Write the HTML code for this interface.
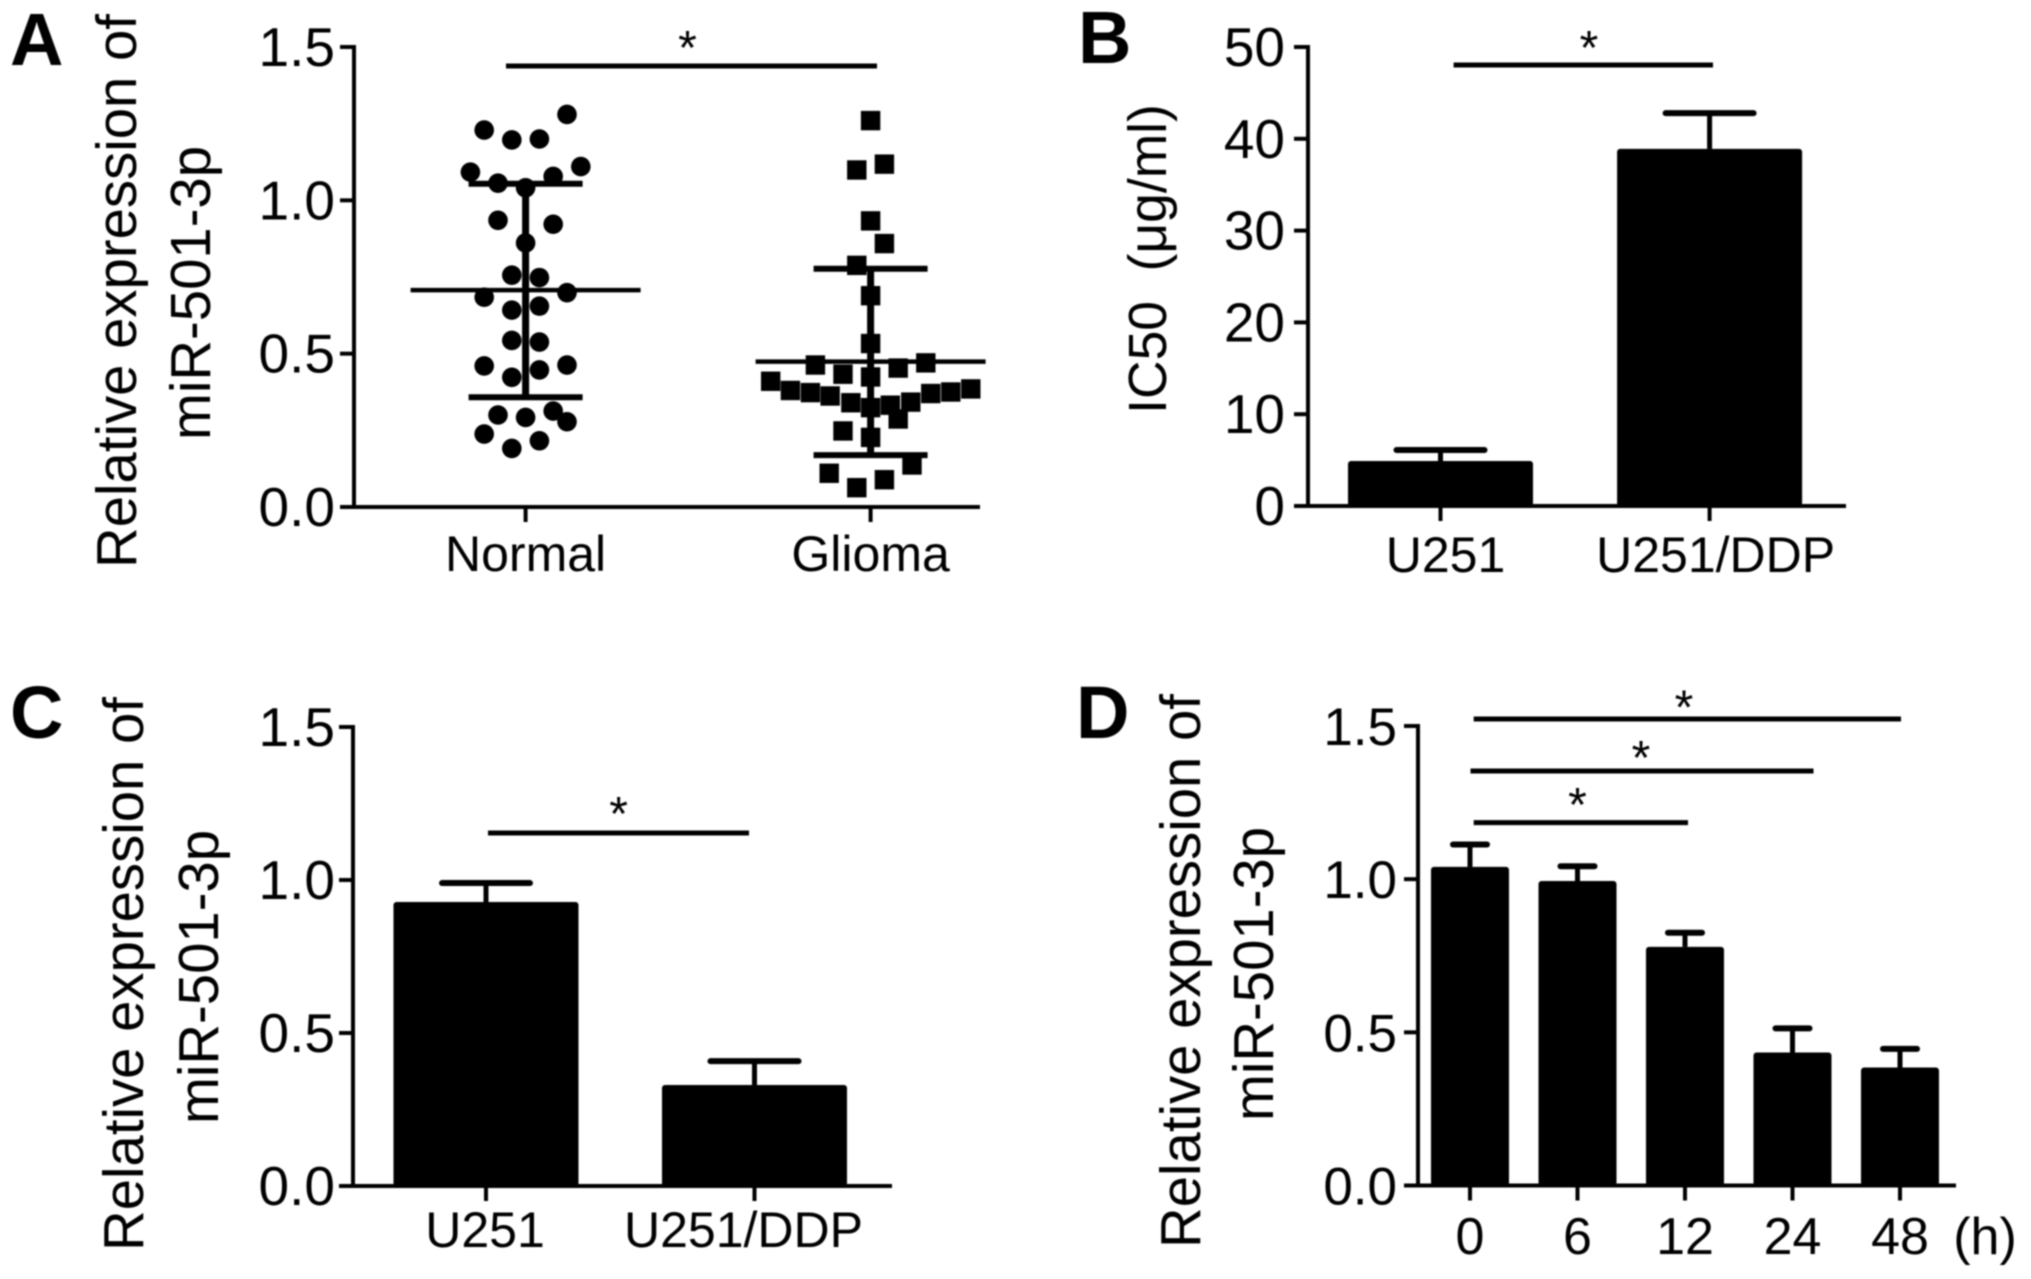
<!DOCTYPE html>
<html lang="en">
<head>
<meta charset="utf-8">
<title>miR-501-3p expression panels</title>
<style>
html,body{margin:0;padding:0;background:#fff;width:2031px;height:1279px;overflow:hidden}
svg{display:block;filter:blur(0.9px)}
text{font-family:"Liberation Sans",sans-serif;fill:#000}
.letter{font-size:74px;font-weight:bold}
.title{font-size:56.3px}
</style>
</head>
<body>
<svg id="figure" xmlns="http://www.w3.org/2000/svg" width="2031" height="1279" viewBox="0 0 2031 1279">
  <rect x="0" y="0" width="2031" height="1279" fill="#fff"/>
  <text class="letter" x="10" y="65">A</text>
  <text class="letter" x="1078" y="63">B</text>
  <text class="letter" x="10" y="738">C</text>
  <text class="letter" x="1076" y="738">D</text>

  <text class="title" text-anchor="middle" transform="translate(136 291) rotate(-90)">Relative expression of</text>
  <text class="title" text-anchor="middle" transform="translate(210 293) rotate(-90)">miR-501-3p</text>
  <text class="title" style="font-size:53.4px" text-anchor="middle" transform="translate(1166 259) rotate(-90)">IC50&#160;&#160;(μg/ml)</text>
  <text class="title" text-anchor="middle" transform="translate(143 974) rotate(-90)">Relative expression of</text>
  <text class="title" text-anchor="middle" transform="translate(218 977) rotate(-90)">miR-501-3p</text>
  <text class="title" text-anchor="middle" transform="translate(1200 971) rotate(-90)">Relative expression of</text>
  <text class="title" text-anchor="middle" transform="translate(1273 974) rotate(-90)">miR-501-3p</text>
  <text x="1985" y="1254" text-anchor="middle" font-size="52">(h)</text>
</svg>
<script>
// Panel A: scatter values
const aCategories = ['Normal', 'Glioma'];
const aTicks = ['0.0', '0.5', '1.0', '1.5'];
const normalValues = [1.280, 1.229, 1.197, 1.200, 1.092, 1.110, 1.056, 1.078, 1.041, 0.935, 0.922, 0.861, 0.756, 0.748, 0.684, 0.699, 0.642, 0.655, 0.543, 0.538, 0.460, 0.463, 0.423, 0.447, 0.300, 0.292, 0.313, 0.278, 0.238, 0.216, 0.191];
const normalSwarm = [3, -3, -1, 1, -4, 4, -2, 2, 0, -2, 2, 0, -1, 1, -3, 3, -1, 1, -1, 1, -3, 3, -1, 1, -2, 0, 2, 3, -3, 1, -1];
const gliomaValues = [1.260, 1.118, 1.099, 0.933, 0.859, 0.788, 0.689, 0.533, 0.463, 0.470, 0.433, 0.453, 0.424, 0.410, 0.380, 0.373, 0.362, 0.340, 0.324, 0.332, 0.342, 0.370, 0.375, 0.385, 0.287, 0.248, 0.227, 0.137, 0.110, 0.089, 0.063];
const gliomaSwarm = [0, 1, -1, 0, 1, -1, 0, 0, -4, 4, -2, 2, 0, -7.24, -5.81, -4.36, -2.93, -1.43, 0, 1.43, 2.91, 4.36, 5.81, 7.26, 2, -2, 0, 3, -3, 1, -1];
const aMeans = [0.707, 0.474];
const aUpper = [1.054, 0.777];
const aLower = [0.358, 0.169];

// Panel B
const bCategories = ['U251', 'U251/DDP'];
const bTicks = ['0', '10', '20', '30', '40', '50'];
const bValues = [4.9, 38.9];
const bUpper = [6.1, 42.8];

// Panel C
const cCategories = ['U251', 'U251/DDP'];
const cTicks = ['0.0', '0.5', '1.0', '1.5'];
const cValues = [0.928, 0.330];
const cUpper = [0.990, 0.408];

// Panel D
const dCategories = ['0', '6', '12', '24', '48'];
const dTicks = ['0.0', '0.5', '1.0', '1.5'];
const dValues = [1.040, 0.994, 0.779, 0.434, 0.385];
const dUpper = [1.113, 1.042, 0.825, 0.513, 0.446];

const NS = 'http://www.w3.org/2000/svg';
const svg = document.getElementById('figure');

function shape(tag, attrs, parent) {
  const node = document.createElementNS(NS, tag);
  for (const k in attrs) node.setAttribute(k, attrs[k]);
  (parent || svg).appendChild(node);
  return node;
}
function linear(d0, d1, r0, r1) {
  return function (v) { return r0 + (v - d0) / (d1 - d0) * (r1 - r0); };
}

function drawAxes(p, ticks, cats, y, x) {
  const g = shape('g', {});
  
  
  let el = shape('line', { x1: p.axisX, x2: p.axisX, y1: p.top - 2, y2: p.bottom + 2, stroke: '#000', 'stroke-width': 4 }, g);
  
  
  el = shape('line', { x1: p.axisX - 14, x2: p.right, y1: p.bottom, y2: p.bottom, stroke: '#000', 'stroke-width': 4 }, g);
  
  
  ticks.forEach(function (t) {
    const ty = y(parseFloat(t));
    const tick = shape('line', { x1: p.axisX - 14, x2: p.axisX, y1: ty, y2: ty, stroke: '#000', 'stroke-width': 4 }, g);
    
    
    const label = shape('text', { x: p.tickRight, y: ty + 19, 'text-anchor': 'end', 'font-size': p.tickSize }, g);
    label.textContent = t;
    
    
  });
  cats.forEach(function (c, i) {
    const cx = x(i);
    const tick = shape('line', { x1: cx, x2: cx, y1: p.bottom, y2: p.bottom + 15, stroke: '#000', 'stroke-width': 4 }, g);
    
    
    const label = shape('text', { x: cx + (p.labelShift ? p.labelShift[i] : 0), y: p.labelY, 'text-anchor': 'middle', 'font-size': p.labelSize }, g);
    label.textContent = c;
    
    
  });
}

function drawBars(p, cats, values, upper, y, x) {
  values.forEach(function (v, i) {
    const cx = x(i);
    const stem = shape('line', { x1: cx, x2: cx, y1: y(upper[i]), y2: y(v), stroke: '#000', 'stroke-width': 5 });
    
    
    const cap = shape('line', { x1: cx - p.capHalf, x2: cx + p.capHalf, y1: y(upper[i]), y2: y(upper[i]), stroke: '#000', 'stroke-width': 6, 'stroke-linecap': 'round' });
    
    
    const bar = shape('rect', { x: cx - p.barWidth / 2, y: y(v), width: p.barWidth, height: p.bottom - y(v), fill: '#000', rx: 3 });
    
    
  });
}

function drawSig(name, x1, x2, yLine, starX, starY) {
  const line = shape('line', { x1: x1, x2: x2, y1: yLine, y2: yLine, stroke: '#000', 'stroke-width': 5 });
  
  
  const star = shape('text', { x: starX, y: starY + 24, 'text-anchor': 'middle', 'font-size': 48 });
  star.textContent = '*';
  
  
}

// Panel A
const pA = { id: 'panel-a', axisX: 354, top: 47, bottom: 507, right: 980, tickRight: 335, tickSize: 55, labelY: 571, labelSize: 50 };
const yA = linear(0, 1.5, pA.bottom, pA.top);
const xA = linear(0, 1, 525.6, 870.6);
const swarmStep = 13.8;
drawAxes(pA, aTicks, aCategories, yA, xA);
normalValues.forEach(function (v, i) {
  const dot = shape('circle', { cx: xA(0) + normalSwarm[i] * swarmStep, cy: yA(v), r: 9.8, fill: '#000' });
  
  
});
gliomaValues.forEach(function (v, i) {
  const sq = shape('rect', { x: xA(1) + gliomaSwarm[i] * swarmStep - 9.7, y: yA(v) - 9.7, width: 19.4, height: 19.4, fill: '#000' });
  
  
});
aCategories.forEach(function (c, i) {
  const cx = xA(i);
  const stem = shape('line', { x1: cx, x2: cx, y1: yA(aUpper[i]), y2: yA(aLower[i]), stroke: '#000', 'stroke-width': 7 });
  
  
  const mean = shape('line', { x1: cx - 115, x2: cx + 115, y1: yA(aMeans[i]), y2: yA(aMeans[i]), stroke: '#000', 'stroke-width': 4.5 });
  
  
  const up = shape('line', { x1: cx - 57, x2: cx + 57, y1: yA(aUpper[i]), y2: yA(aUpper[i]), stroke: '#000', 'stroke-width': 6 });
  
  
  const low = shape('line', { x1: cx - 57, x2: cx + 57, y1: yA(aLower[i]), y2: yA(aLower[i]), stroke: '#000', 'stroke-width': 6 });
  
  
});
drawSig('panel-a-significance', 506, 877, 66, 687.5, 40);

// Panel B
const pB = { id: 'panel-b', axisX: 1308, top: 47, bottom: 506, right: 1846, tickRight: 1285, tickSize: 55, labelY: 572, labelSize: 50, labelShift: [5, 6], capHalf: 44, barWidth: 185 };
const yB = linear(0, 50, pB.bottom, pB.top);
const xB = linear(0, 1, 1440.5, 1709.6);
drawAxes(pB, bTicks, bCategories, yB, xB);
drawBars(pB, bCategories, bValues, bUpper, yB, xB);
drawSig('panel-b-significance', 1453.6, 1713, 65, 1589, 40);

// Panel C
const pC = { id: 'panel-c', axisX: 353, top: 727, bottom: 1186, right: 892, tickRight: 335, tickSize: 55, labelY: 1247, labelSize: 50, labelShift: [-1, -11], capHalf: 44, barWidth: 185 };
const yC = linear(0, 1.5, pC.bottom, pC.top);
const xC = linear(0, 1, 486, 754.5);
drawAxes(pC, cTicks, cCategories, yC, xC);
drawBars(pC, cCategories, cValues, cUpper, yC, xC);
drawSig('panel-c-significance', 488, 749, 833, 618.6, 806);

// Panel D
const pD = { id: 'panel-d', axisX: 1418, top: 726, bottom: 1185.5, right: 1956, tickRight: 1397, tickSize: 53, labelY: 1254, labelSize: 52, capHalf: 17, barWidth: 78 };
const yD = linear(0, 1.5, pD.bottom, pD.top);
const xD = linear(0, 4, 1470, 1900);
drawAxes(pD, dTicks, dCategories, yD, xD);
drawBars(pD, dCategories, dValues, dUpper, yD, xD);
drawSig('panel-d-significance-48h', 1473.7, 1901, 719, 1684, 699.5);
drawSig('panel-d-significance-24h', 1470.5, 1813.5, 771, 1641, 750);
drawSig('panel-d-significance-12h', 1473.7, 1688, 822.6, 1577.5, 797);
</script>
</body>
</html>
